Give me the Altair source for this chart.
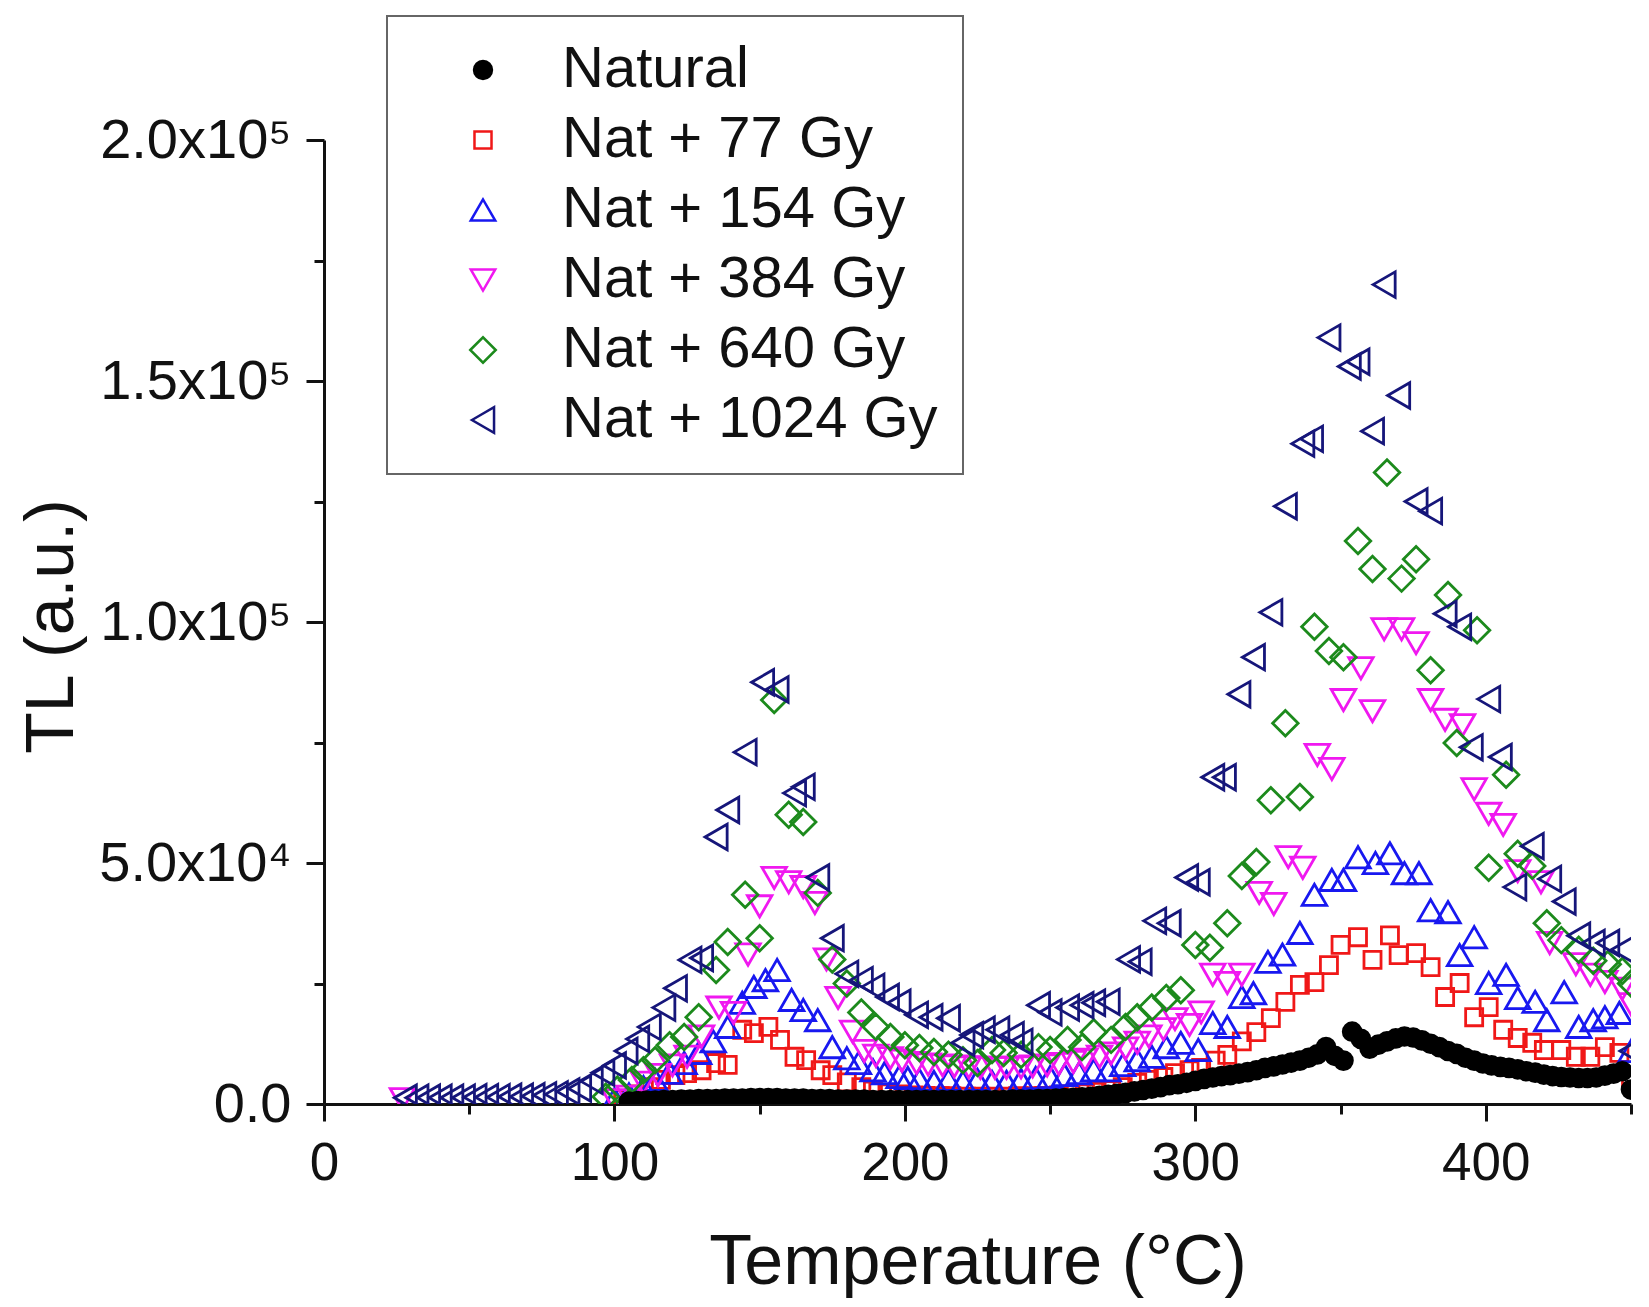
import altair as alt
import pandas as pd

SERIES = ["Natural", "Nat + 77 Gy", "Nat + 154 Gy", "Nat + 384 Gy", "Nat + 640 Gy", "Nat + 1024 Gy"]
STROKES = ["#000000", "#f01818", "#1818f0", "#f018f0", "#1c8a1c", "#16167a"]
FILLS = ["#000000", "transparent", "transparent", "transparent", "transparent", "transparent"]
SHAPES = ["circle", "square", "triangle-up", "triangle-down", "diamond", "triangle-left"]
SIZES = [320, 290, 600, 600, 650, 650]

# values in units of 1000 a.u.
T_NAT = [105, 108, 111, 114, 117, 120, 123, 126, 129, 132,
         135, 138, 141, 144, 147, 150, 153, 156, 159, 162,
         165, 168, 171, 174, 177, 180, 183, 186, 189, 192,
         195, 198, 201, 204, 207, 210, 213, 216, 219, 222,
         225, 228, 231, 234, 237, 240, 243, 246, 249, 252,
         255, 258, 261, 264, 267, 270, 273, 276, 279, 282,
         285, 288, 291, 294, 297, 300, 303, 306, 309, 312,
         315, 318, 321, 324, 327, 330, 333, 336, 339, 342,
         345, 348, 351, 354, 357, 360, 363, 366, 369, 372,
         375, 378, 381, 384, 387, 390, 393, 396, 399, 402,
         405, 408, 411, 414, 417, 420, 423, 426, 429, 432,
         435, 438, 441, 444, 447, 450]
V_NAT = [0.5, 0.6, 0.7, 0.7, 0.8, 0.8, 0.9, 0.9, 1.0, 1.0,
         1.0, 1.1, 1.1, 1.1, 1.2, 1.2, 1.2, 1.2, 1.1, 1.1,
         1.1, 1.0, 1.0, 1.0, 0.9, 0.9, 0.9, 0.9, 0.8, 0.8,
         0.8, 0.8, 0.8, 0.8, 0.8, 0.8, 0.8, 0.8, 0.8, 0.8,
         0.8, 0.8, 0.8, 0.8, 0.9, 0.9, 0.9, 1.0, 1.0, 1.1,
         1.2, 1.3, 1.4, 1.5, 1.7, 1.9, 2.1, 2.3, 2.6, 2.9,
         3.2, 3.5, 3.9, 4.1, 4.4, 4.8, 5.2, 5.5, 5.8, 6.0,
         6.3, 6.6, 7.0, 7.5, 7.8, 8.2, 8.6, 9.0, 9.6, 10.3,
         11.8, 10.0, 9.0, 15.0, 13.5, 11.5, 12.3, 13.0, 13.6, 14.0,
         13.8, 13.2, 12.5, 11.8, 11.0, 10.4, 9.6, 9.0, 8.4, 8.0,
         7.7, 7.5, 7.2, 6.8, 6.5, 6.1, 5.8, 5.6, 5.5, 5.4,
         5.4, 5.5, 5.9, 6.3, 6.8, 3.0]

T_77 = [103, 107, 112, 116, 121, 125, 130, 135, 139, 144,
        148, 153, 157, 162, 166, 171, 175, 180, 185, 189,
        194, 198, 203, 207, 212, 216, 221, 226, 230, 235,
        239, 244, 248, 253, 257, 262, 266, 271, 275, 280,
        284, 289, 293, 298, 302, 307, 311, 316, 321, 326,
        331, 336, 341, 346, 350, 356, 361, 367, 370, 376,
        381, 386, 391, 396, 401, 406, 411, 416, 420, 426,
        431, 436, 441, 446, 450]
V_77 = [1.0, 2.0, 3.5, 5.0, 6.0, 6.4, 7.0, 8.5, 8.1, 15.4,
        14.7, 16.0, 13.3, 9.8, 9.1, 7.0, 6.0, 4.5, 3.5, 2.8,
        2.2, 2.0, 1.8, 1.7, 1.6, 1.6, 1.5, 1.5, 1.5, 1.5,
        1.6, 1.6, 1.7, 1.8, 2.0, 2.2, 2.5, 2.9, 3.5, 4.4,
        5.0, 5.6, 6.4, 7.0, 7.5, 9.0, 10.2, 13.0, 14.9, 17.8,
        21.2, 24.7, 25.3, 28.8, 33.0, 34.6, 29.9, 35.0, 30.9, 31.3,
        28.4, 22.2, 25.1, 18.0, 20.1, 15.4, 13.7, 12.7, 11.2, 11.2,
        9.8, 9.8, 11.8, 10.6, 5.0]

T_154 = [100, 105, 110, 114, 119, 124, 129, 134, 139, 144,
         148, 152, 156, 161, 165, 170, 175, 180, 184, 189,
         193, 198, 201, 205, 210, 215, 220, 225, 230, 235,
         240, 245, 250, 255, 260, 265, 270, 275, 280, 285,
         290, 295, 301, 306, 311, 316, 320, 325, 330, 336,
         341, 347, 351, 356, 362, 367, 372, 377, 381, 387,
         391, 396, 401, 407, 411, 417, 421, 427, 432, 437,
         441, 446, 450]
V_154 = [1.0, 2.0, 3.5, 5.0, 6.5, 8.5, 10.6, 13.0, 16.0, 21.0,
         24.3, 25.7, 27.8, 21.6, 19.5, 17.4, 11.8, 9.5, 8.5, 7.0,
         6.4, 5.6, 5.4, 5.0, 4.6, 5.0, 4.6, 5.0, 4.6, 4.6,
         5.0, 5.4, 5.6, 6.0, 6.4, 7.0, 7.0, 8.1, 9.1, 9.8,
         11.8, 12.7, 11.2, 16.8, 16.0, 22.2, 23.0, 29.5, 31.0, 35.5,
         43.4, 46.5, 46.5, 51.2, 50.0, 52.0, 47.9, 47.9, 40.2, 39.8,
         30.9, 34.6, 25.1, 26.8, 22.0, 21.2, 17.4, 23.2, 16.0, 17.4,
         18.0, 18.9, 11.0]

T_384 = [27, 100, 105, 110, 115, 120, 125, 130, 136, 141,
         146, 150, 155, 160, 165, 169, 173, 177, 182, 186,
         190, 195, 199, 204, 208, 213, 217, 222, 226, 231,
         235, 240, 244, 249, 253, 258, 262, 267, 271, 276,
         280, 284, 289, 293, 298, 302, 306, 311, 316, 322,
         327, 332, 337, 342, 347, 351, 357, 361, 365, 371,
         376, 381, 386, 392, 396, 401, 406, 411, 419, 422,
         431, 436, 441, 447, 450]
V_384 = [1.0, 0.8, 1.5, 4.4, 6.0, 8.0, 9.8, 14.0, 20.0, 18.9,
         31.0, 41.0, 46.9, 46.0, 45.0, 41.7, 30.0, 22.0, 15.0, 11.0,
         10.0, 9.5, 9.0, 8.5, 8.2, 8.0, 7.8, 7.6, 7.5, 7.5,
         7.5, 7.6, 7.8, 8.0, 8.3, 8.7, 9.2, 9.8, 10.5, 11.5,
         12.7, 14.0, 15.5, 17.6, 16.4, 19.0, 26.8, 25.1, 26.8, 43.8,
         41.5, 51.2, 49.0, 72.4, 69.5, 83.8, 90.4, 81.5, 98.5, 98.5,
         95.6, 83.8, 79.7, 78.6, 65.3, 60.2, 57.9, 48.3, 46.0, 33.4,
         29.0, 26.8, 25.3, 23.9, 20.7]

T_640 = [97, 101, 106, 110, 114, 119, 124, 129, 135, 139,
         145, 150, 155, 160, 165, 170, 175, 180, 185, 190,
         195, 200, 205, 210, 215, 220, 225, 230, 234, 240,
         246, 250, 256, 261, 265, 271, 276, 280, 285, 290,
         295, 300, 305, 311, 316, 321, 326, 331, 336, 341,
         346, 351, 356, 361, 366, 371, 376, 381, 387, 390,
         397, 401, 407, 411, 416, 421, 426, 432, 437, 442,
         447, 450]
V_640 = [1.5, 3.0, 5.0, 7.0, 9.1, 12.2, 13.9, 18.0, 27.8, 33.6,
         43.4, 34.4, 83.8, 60.0, 58.5, 43.8, 30.0, 25.0, 19.0, 16.0,
         13.9, 12.2, 11.6, 10.8, 10.2, 9.1, 8.5, 11.2, 10.6, 10.2,
         11.8, 11.2, 13.3, 11.8, 14.9, 13.3, 16.0, 18.0, 20.0, 22.0,
         23.6, 33.0, 32.4, 37.5, 47.3, 50.2, 63.0, 79.0, 63.7, 99.0,
         94.0, 92.7, 116.8, 111.0, 131.0, 109.0, 113.0, 90.0, 105.6, 74.9,
         98.3, 49.0, 68.3, 51.9, 49.4, 37.5, 34.0, 32.0, 29.7, 29.0,
         27.6, 25.0]

T_1024 = [28, 32, 36, 40, 44, 48, 52, 56, 60, 64,
          68, 72, 76, 80, 84, 88, 92, 96, 100, 104,
          108, 112, 117, 121, 126, 130, 135, 139, 145, 151,
          156, 162, 165, 170, 175, 180, 185, 189, 194, 198,
          204, 209, 215, 220, 223, 227, 232, 237, 240, 246,
          250, 256, 261, 265, 270, 277, 281, 286, 291, 297,
          301, 306, 310, 315, 320, 326, 331, 337, 340, 346,
          353, 356, 361, 365, 370, 376, 381, 386, 391, 395,
          401, 405, 410, 416, 422, 427, 432, 437, 442, 447,
          450]
V_1024 = [1.3, 1.3, 1.3, 1.3, 1.3, 1.3, 1.4, 1.4, 1.4, 1.5,
          1.5, 1.6, 1.8, 2.0, 2.6, 3.2, 4.8, 6.5, 8.0, 11.0,
          13.5, 16.0, 20.0, 24.0, 29.9, 30.3, 55.4, 61.0, 73.0, 87.5,
          86.0, 64.5, 65.8, 47.0, 34.4, 27.0, 25.7, 24.3, 22.2, 21.0,
          18.5, 18.0, 17.8, 12.7, 14.3, 15.4, 15.4, 14.3, 12.9, 20.5,
          19.0, 20.0, 20.5, 21.0, 21.2, 30.0, 29.5, 38.0, 37.5, 47.0,
          46.0, 67.8, 67.8, 85.0, 92.7, 102.0, 124.0, 137.0, 138.0, 159.0,
          153.0, 154.0, 139.6, 170.0, 147.0, 125.0, 123.0, 101.7, 99.0, 74.0,
          84.0, 72.0, 45.0, 53.5, 46.7, 42.0, 34.9, 33.4, 33.4, 32.0,
          11.0]

X_TICKS = [0, 50, 100, 150, 200, 250, 300, 350, 400, 450]
Y_TICKS = [0, 25000, 50000, 75000, 100000, 125000, 150000, 175000, 200000]

# drawing order: natural last (on top)
order = [(SERIES[1], T_77, V_77), (SERIES[2], T_154, V_154), (SERIES[3], T_384, V_384),
         (SERIES[4], T_640, V_640), (SERIES[5], T_1024, V_1024), (SERIES[0], T_NAT, V_NAT)]
frames = []
for name, ts, vs in order:
    frames.append(pd.DataFrame({"series": name, "T": ts, "TL": [v * 1000 for v in vs]}))
df = pd.concat(frames, ignore_index=True)

FONT = "Liberation Sans"

x_axis = alt.Axis(
    values=X_TICKS,
    labelExpr="datum.value % 100 == 0 ? datum.label : ''",
    tickSize={"condition": {"test": "datum.value % 100 == 0", "value": 17}, "value": 10},
    labelPadding=16, labelFontSize=53, labelFont=FONT, labelColor="#111", labelFlush=False,
    labelLimit=500,
    title="Temperature (°C)", titleFontSize=70, titleFont=FONT, titleFontWeight="normal",
    titleColor="#111", titleBaseline="alphabetic", titleY=179,
    domainColor="#111", domainWidth=3, tickColor="#111", tickWidth=3, grid=False,
)
y_axis = alt.Axis(
    values=Y_TICKS,
    labelExpr="datum.value == 0 ? '0.0' : (datum.value == 50000 ? '5.0x10⁴' : (datum.value % 50000 == 0 ? format(datum.value / 100000, '.1f') + 'x10⁵' : ''))",
    tickSize={"condition": {"test": "datum.value % 50000 == 0", "value": 18}, "value": 10},
    labelPadding=15, labelFontSize=56, labelFont=FONT, labelColor="#111", labelFlush=False,
    labelLimit=500,
    title="TL (a.u.)", titleFontSize=68, titleFont=FONT, titleFontWeight="normal",
    titleColor="#111", titleAngle=270, titleBaseline="alphabetic", titleAlign="center",
    titleX=-252, titleY=486,
    domainColor="#111", domainWidth=3, tickColor="#111", tickWidth=3, grid=False,
)

legend = alt.Legend(orient="none", legendX=63, legendY=-124)

chart = alt.Chart(df).mark_point(strokeWidth=2.8, opacity=1, clip=True).encode(
    x=alt.X("T:Q", scale=alt.Scale(domain=[0, 450], nice=False, zero=False), axis=x_axis),
    y=alt.Y("TL:Q", scale=alt.Scale(domain=[0, 200000], nice=False), axis=y_axis),
    stroke=alt.Stroke("series:N", scale=alt.Scale(domain=SERIES, range=STROKES), title=None, legend=legend),
    fill=alt.Fill("series:N", scale=alt.Scale(domain=SERIES, range=FILLS), title=None, legend=legend),
    shape=alt.Shape("series:N", scale=alt.Scale(domain=SERIES, range=SHAPES), title=None, legend=legend),
    size=alt.Size("series:N", scale=alt.Scale(type="ordinal", domain=SERIES, range=SIZES), title=None, legend=legend),
).properties(
    width=1307, height=964,
    autosize=alt.AutoSizeParams(type="none"),
    padding={"left": 316, "top": 132, "right": 10, "bottom": 194},
).configure_view(
    stroke=None
).configure_legend(
    padding=25, rowPadding=12,
    labelFontSize=58, labelFont=FONT, labelColor="#111", labelLimit=1000,
    symbolStrokeWidth=2.5, symbolOffset=42, labelOffset=50,
    strokeColor="#666", strokeWidth=2, fillColor="white",
)

chart.save("out.html", embed_options={"renderer": "svg", "actions": False})
